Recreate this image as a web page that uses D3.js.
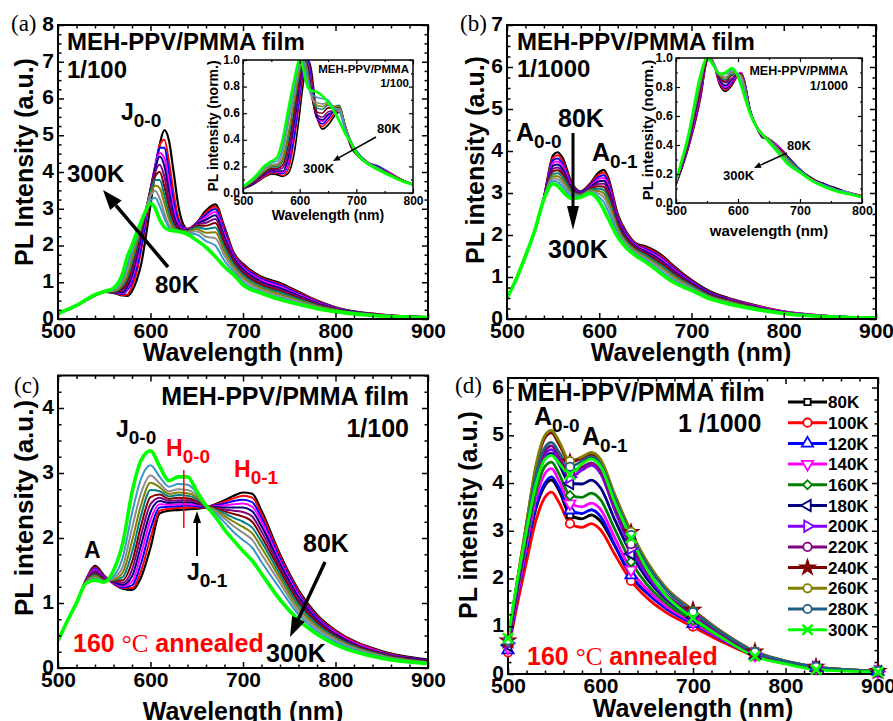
<!DOCTYPE html>
<html>
<head>
<meta charset="utf-8">
<script src="https://cdn.jsdelivr.net/npm/d3@7"></script>
<style>
body { margin: 0; background: #fff; }
svg { display: block; }
</style>
</head>
<body>
<svg id="fig" width="893" height="721"></svg>
<script>
const FONT = "'Liberation Sans', Arial, sans-serif";
const SERIF = "'Liberation Serif', 'Times New Roman', serif";

const temps = ["80K", "100K", "120K", "140K", "160K", "180K", "200K", "220K", "240K", "260K", "280K", "300K"];
const legendColors = ["#000000", "#ff0000", "#0000ff", "#ff00ff", "#008000", "#000080", "#8000ff", "#800080", "#800000", "#808000", "#1f5f82", "#00ff00"];
const bandColors = ["#000000", "#ff0000", "#0000ff", "#ff00ff", "#000080", "#800080", "#800000", "#008080", "#808000", "#8c8c8c", "#3a96c8", "#00ff00"];
const xTicks = [500, 600, 700, 800, 900];
const insetXTicks = [500, 600, 700, 800];

// (a) 1/100 film, one array per temperature
const aWave = [500, 520, 540, 550, 560, 570, 575, 580, 585, 590, 595, 600, 605, 610, 615, 620, 625, 630, 635, 640, 650, 660, 670, 680, 690, 700, 720, 740, 760, 780, 800, 850, 900];
const aSpectra = [
  [.15, .36, .64, .74, .71, .64, .63, .76, 1.05, 1.5, 2.25, 3.1, 4.0, 4.75, 5.14, 4.85, 4.0, 3.1, 2.6, 2.45, 2.62, 2.95, 3.12, 2.5, 1.8, 1.5, 1.15, .98, .74, .5, .32, .12, .05],
  [.15, .36, .64, .74, .72, .65, .67, .89, 1.26, 1.88, 2.59, 3.4, 4.14, 4.74, 4.88, 4.28, 3.43, 2.77, 2.52, 2.45, 2.62, 2.9, 3.06, 2.45, 1.77, 1.47, 1.12, .95, .72, .49, .31, .12, .05],
  [.15, .36, .64, .74, .72, .68, .79, 1.01, 1.4, 1.98, 2.72, 3.46, 4.16, 4.66, 4.66, 3.98, 3.19, 2.67, 2.49, 2.44, 2.61, 2.84, 2.99, 2.38, 1.73, 1.43, 1.09, .92, .69, .47, .3, .11, .05],
  [.15, .36, .64, .74, .73, .71, .84, 1.1, 1.54, 2.16, 2.81, 3.52, 4.15, 4.52, 4.38, 3.71, 2.99, 2.58, 2.45, 2.43, 2.6, 2.77, 2.91, 2.3, 1.69, 1.39, 1.05, .88, .66, .45, .29, .11, .05],
  [.15, .36, .64, .74, .73, .73, .89, 1.18, 1.67, 2.24, 2.9, 3.54, 4.1, 4.42, 4.16, 3.46, 2.82, 2.52, 2.43, 2.42, 2.59, 2.7, 2.82, 2.22, 1.65, 1.35, 1.01, .84, .63, .43, .28, .11, .05],
  [.15, .36, .64, .74, .74, .79, .97, 1.31, 1.8, 2.36, 2.95, 3.53, 4.01, 4.2, 3.87, 3.23, 2.7, 2.48, 2.42, 2.41, 2.57, 2.62, 2.72, 2.13, 1.6, 1.3, .97, .8, .6, .41, .27, .1, .05],
  [.15, .36, .64, .74, .74, .84, 1.04, 1.44, 1.95, 2.44, 2.98, 3.47, 3.88, 4.0, 3.6, 3.04, 2.61, 2.45, 2.41, 2.4, 2.54, 2.54, 2.61, 2.04, 1.55, 1.25, .93, .76, .57, .39, .26, .1, .05],
  [.15, .36, .64, .74, .75, .91, 1.14, 1.54, 2.0, 2.49, 2.98, 3.44, 3.78, 3.78, 3.37, 2.86, 2.54, 2.42, 2.4, 2.39, 2.5, 2.45, 2.49, 1.94, 1.49, 1.2, .88, .72, .54, .37, .25, .1, .05],
  [.15, .36, .64, .74, .76, .96, 1.21, 1.65, 2.08, 2.52, 2.96, 3.38, 3.63, 3.56, 3.15, 2.72, 2.47, 2.4, 2.39, 2.37, 2.45, 2.35, 2.36, 1.83, 1.42, 1.14, .84, .67, .5, .35, .24, .09, .05],
  [.15, .36, .65, .75, .78, 1.04, 1.37, 1.81, 2.19, 2.6, 3.0, 3.34, 3.49, 3.28, 2.88, 2.55, 2.42, 2.39, 2.37, 2.35, 2.39, 2.24, 2.2, 1.72, 1.35, 1.08, .79, .62, .47, .33, .22, .09, .04],
  [.15, .37, .65, .75, .8, 1.11, 1.48, 1.88, 2.22, 2.59, 2.91, 3.23, 3.3, 3.07, 2.74, 2.49, 2.39, 2.37, 2.35, 2.33, 2.3, 2.12, 2.0, 1.58, 1.28, 1.01, .74, .57, .43, .3, .21, .08, .04],
  [.15, .37, .66, .75, .84, 1.25, 1.7, 2.0, 2.35, 2.65, 2.95, 3.15, 3.02, 2.7, 2.5, 2.42, 2.4, 2.38, 2.35, 2.3, 2.14, 1.95, 1.7, 1.42, 1.2, .93, .7, .53, .4, .28, .2, .08, .04]
];

// (a) inset, normalised
const aInsetWave = [500, 520, 540, 550, 560, 570, 580, 590, 600, 605, 610, 615, 620, 630, 640, 650, 660, 670, 680, 690, 700, 720, 740, 760, 780, 800];
const aInsetSpectra = [
  [.03, .07, .125, .144, .138, .125, .148, .29, .60, .78, .92, 1.0, .94, .60, .48, .51, .57, .61, .49, .35, .29, .22, .19, .14, .1, .06],
  [.03, .074, .13, .15, .15, .13, .18, .39, .70, .85, .97, 1.0, .88, .57, .50, .54, .59, .63, .50, .36, .30, .23, .19, .15, .1, .06],
  [.03, .077, .14, .16, .155, .146, .22, .42, .74, .89, 1.0, 1.0, .85, .57, .52, .56, .61, .64, .51, .37, .31, .23, .2, .15, .1, .06],
  [.033, .08, .14, .164, .16, .157, .24, .48, .78, .92, 1.0, .97, .82, .57, .54, .58, .61, .64, .51, .37, .31, .23, .19, .15, .1, .064],
  [.034, .081, .145, .167, .165, .165, .27, .51, .80, .93, 1.0, .94, .78, .57, .55, .59, .61, .64, .50, .37, .31, .23, .19, .14, .1, .063],
  [.036, .086, .152, .176, .176, .188, .31, .56, .84, .95, 1.0, .92, .77, .59, .57, .61, .62, .65, .51, .38, .31, .23, .19, .14, .1, .064],
  [.038, .09, .16, .185, .185, .21, .36, .61, .87, .97, 1.0, .9, .76, .61, .60, .64, .64, .65, .51, .39, .31, .23, .19, .14, .1, .065],
  [.04, .095, .17, .196, .198, .24, .41, .66, .91, 1.0, 1.0, .89, .76, .64, .63, .66, .65, .66, .51, .39, .32, .23, .19, .14, .1, .066],
  [.041, .1, .176, .204, .21, .26, .45, .69, .93, 1.0, .98, .87, .75, .66, .65, .67, .65, .65, .50, .39, .31, .23, .18, .14, .1, .066],
  [.043, .103, .186, .215, .22, .30, .52, .74, .96, 1.0, .94, .83, .73, .68, .67, .68, .64, .63, .49, .39, .31, .23, .18, .13, .09, .063],
  [.045, .11, .197, .227, .24, .34, .57, .78, .98, 1.0, .93, .83, .75, .72, .71, .70, .64, .61, .48, .39, .31, .22, .17, .13, .09, .064],
  [.048, .117, .21, .238, .267, .40, .63, .84, 1.0, .96, .86, .79, .77, .76, .73, .68, .62, .54, .45, .38, .30, .22, .17, .13, .09, .063]
];

// (b) 1/1000 film: wavelength, then 80K ... 300K
const bRows = [
  [500, .5, .5, .5, .5, .5, .5, .5, .5, .5, .5, .5, .5],
  [510, .95, .95, .95, .95, .95, .95, .95, .95, .95, .95, .95, .95],
  [520, 1.5, 1.5, 1.5, 1.5, 1.5, 1.5, 1.5, 1.5, 1.5, 1.5, 1.5, 1.5],
  [530, 2.1, 2.1, 2.1, 2.1, 2.1, 2.1, 2.1, 2.1, 2.1, 2.1, 2.1, 2.1],
  [540, 2.9, 2.9, 2.9, 2.89, 2.89, 2.88, 2.88, 2.87, 2.87, 2.86, 2.86, 2.85],
  [550, 3.9, 3.84, 3.78, 3.72, 3.65, 3.58, 3.52, 3.46, 3.4, 3.35, 3.29, 3.22],
  [555, 3.97, 3.9, 3.82, 3.75, 3.68, 3.61, 3.54, 3.47, 3.4, 3.33, 3.26, 3.17],
  [560, 3.85, 3.78, 3.71, 3.65, 3.58, 3.51, 3.45, 3.38, 3.31, 3.24, 3.16, 3.05],
  [570, 3.25, 3.22, 3.19, 3.16, 3.13, 3.1, 3.07, 3.04, 3.0, 2.97, 2.93, 2.87],
  [580, 3.04, 3.03, 3.02, 3.0, 2.99, 2.98, 2.97, 2.96, 2.94, 2.93, 2.92, 2.9],
  [590, 3.22, 3.2, 3.18, 3.16, 3.14, 3.12, 3.1, 3.08, 3.06, 3.04, 3.02, 2.99],
  [600, 3.5, 3.45, 3.39, 3.34, 3.28, 3.22, 3.16, 3.1, 3.04, 2.98, 2.9, 2.8],
  [605, 3.55, 3.49, 3.42, 3.36, 3.29, 3.22, 3.15, 3.07, 2.99, 2.9, 2.78, 2.6],
  [610, 3.35, 3.29, 3.23, 3.17, 3.1, 3.03, 2.95, 2.87, 2.78, 2.68, 2.55, 2.38],
  [620, 2.5, 2.46, 2.42, 2.38, 2.34, 2.29, 2.24, 2.19, 2.14, 2.09, 2.03, 1.95],
  [630, 2.05, 2.02, 1.99, 1.96, 1.93, 1.9, 1.87, 1.83, 1.8, 1.76, 1.72, 1.68],
  [640, 1.8, 1.78, 1.76, 1.74, 1.72, 1.7, 1.67, 1.64, 1.61, 1.58, 1.54, 1.5],
  [650, 1.73, 1.7, 1.67, 1.64, 1.61, 1.58, 1.55, 1.52, 1.48, 1.45, 1.41, 1.36],
  [660, 1.63, 1.6, 1.56, 1.53, 1.49, 1.46, 1.42, 1.38, 1.34, 1.3, 1.25, 1.2],
  [670, 1.48, 1.45, 1.41, 1.38, 1.34, 1.31, 1.27, 1.23, 1.19, 1.15, 1.09, 1.03],
  [680, 1.28, 1.25, 1.22, 1.19, 1.16, 1.13, 1.1, 1.06, 1.02, .98, .93, .88],
  [700, .93, .91, .89, .87, .85, .83, .81, .79, .76, .74, .71, .68],
  [720, .66, .64, .63, .61, .6, .58, .57, .55, .53, .52, .5, .48],
  [740, .5, .49, .48, .47, .46, .45, .43, .42, .41, .39, .38, .36],
  [760, .38, .37, .36, .35, .34, .33, .32, .31, .3, .29, .28, .27],
  [800, .18, .18, .17, .17, .16, .16, .15, .15, .14, .14, .13, .13],
  [850, .07, .07, .07, .07, .06, .06, .06, .06, .06, .05, .05, .05],
  [900, .03, .03, .03, .03, .03, .03, .02, .02, .02, .02, .02, .02]
];

// (b) inset, normalised
const bInsetRows = [
  [500, .126, .128, .131, .133, .136, .139, .141, .144, .147, .149, .152, .155],
  [520, .38, .38, .39, .4, .41, .42, .42, .43, .44, .45, .46, .47],
  [540, .73, .74, .76, .77, .79, .8, .81, .83, .84, .85, .87, .89],
  [550, .98, .98, .99, .99, .99, .99, .99, 1.0, 1.0, 1.0, 1.0, 1.0],
  [555, 1.0, 1.0, 1.0, 1.0, 1.0, 1.0, 1.0, 1.0, 1.0, .99, .99, .98],
  [560, .97, .97, .97, .97, .97, .97, .97, .97, .97, .97, .96, .95],
  [570, .82, .83, .84, .84, .85, .86, .87, .88, .88, .89, .89, .89],
  [580, .77, .78, .79, .8, .81, .83, .84, .85, .86, .87, .89, .9],
  [590, .81, .82, .83, .84, .85, .86, .88, .89, .9, .91, .92, .93],
  [600, .88, .88, .89, .89, .89, .89, .89, .89, .89, .89, .88, .87],
  [605, .89, .89, .9, .9, .89, .89, .89, .88, .88, .87, .84, .81],
  [610, .84, .84, .85, .85, .84, .84, .83, .83, .82, .8, .78, .74],
  [620, .63, .63, .63, .63, .64, .63, .63, .63, .63, .62, .62, .61],
  [630, .52, .52, .52, .52, .52, .53, .53, .53, .53, .53, .52, .52],
  [640, .45, .46, .46, .46, .47, .47, .47, .47, .47, .47, .47, .47],
  [650, .44, .44, .44, .44, .44, .44, .44, .44, .44, .43, .43, .42],
  [660, .41, .41, .41, .41, .4, .4, .4, .4, .39, .39, .38, .37],
  [670, .37, .37, .37, .37, .36, .36, .36, .35, .35, .34, .33, .32],
  [680, .32, .32, .32, .32, .32, .31, .31, .31, .3, .29, .28, .27],
  [700, .23, .23, .23, .23, .23, .23, .23, .23, .22, .22, .22, .21],
  [720, .17, .16, .16, .16, .16, .16, .16, .16, .16, .16, .15, .15],
  [740, .13, .13, .13, .13, .13, .12, .12, .12, .12, .12, .12, .11],
  [760, .1, .09, .09, .09, .09, .09, .09, .09, .09, .09, .09, .08],
  [780, .07, .07, .07, .07, .07, .07, .07, .07, .07, .07, .07, .06],
  [800, .05, .05, .04, .04, .04, .04, .04, .04, .04, .04, .04, .04]
];

// (c) 1/100 film annealed at 160 C
const cRows = [
  [500, .42, .42, .42, .42, .42, .42, .42, .42, .42, .42, .42, .42],
  [510, .72, .72, .72, .72, .72, .72, .72, .72, .72, .72, .72, .72],
  [520, 1.0, 1.0, 1.0, 1.0, 1.0, 1.0, 1.0, 1.0, 1.0, 1.0, 1.0, 1.0],
  [530, 1.35, 1.35, 1.34, 1.34, 1.33, 1.33, 1.32, 1.32, 1.31, 1.31, 1.3, 1.3],
  [540, 1.57, 1.55, 1.53, 1.51, 1.49, 1.47, 1.45, 1.43, 1.41, 1.39, 1.37, 1.35],
  [550, 1.42, 1.41, 1.4, 1.39, 1.38, 1.37, 1.36, 1.35, 1.34, 1.33, 1.33, 1.32],
  [560, 1.3, 1.3, 1.31, 1.31, 1.32, 1.33, 1.34, 1.35, 1.36, 1.38, 1.41, 1.5],
  [570, 1.22, 1.23, 1.24, 1.26, 1.28, 1.31, 1.35, 1.4, 1.47, 1.56, 1.7, 1.92],
  [580, 1.2, 1.23, 1.27, 1.33, 1.41, 1.51, 1.63, 1.78, 1.95, 2.15, 2.38, 2.7],
  [590, 1.4, 1.5, 1.62, 1.76, 1.9, 2.05, 2.2, 2.36, 2.52, 2.7, 2.92, 3.2],
  [600, 1.85, 2.0, 2.14, 2.28, 2.4, 2.52, 2.63, 2.74, 2.85, 2.96, 3.12, 3.34],
  [610, 2.38, 2.42, 2.47, 2.52, 2.57, 2.62, 2.67, 2.72, 2.78, 2.84, 2.94, 3.1],
  [620, 2.42, 2.45, 2.48, 2.51, 2.54, 2.57, 2.6, 2.64, 2.68, 2.72, 2.79, 2.88],
  [630, 2.43, 2.46, 2.49, 2.52, 2.55, 2.58, 2.62, 2.66, 2.7, 2.75, 2.83, 2.94],
  [640, 2.44, 2.47, 2.5, 2.52, 2.55, 2.58, 2.61, 2.65, 2.69, 2.74, 2.82, 2.94],
  [650, 2.45, 2.47, 2.49, 2.51, 2.53, 2.55, 2.57, 2.6, 2.63, 2.66, 2.7, 2.72],
  [660, 2.47, 2.47, 2.47, 2.48, 2.48, 2.48, 2.49, 2.49, 2.5, 2.5, 2.5, 2.5],
  [670, 2.52, 2.51, 2.5, 2.49, 2.48, 2.47, 2.46, 2.44, 2.43, 2.41, 2.38, 2.33],
  [680, 2.58, 2.56, 2.53, 2.5, 2.47, 2.44, 2.41, 2.38, 2.34, 2.3, 2.24, 2.13],
  [690, 2.65, 2.61, 2.57, 2.52, 2.47, 2.42, 2.37, 2.31, 2.25, 2.18, 2.09, 1.96],
  [700, 2.7, 2.65, 2.59, 2.53, 2.47, 2.4, 2.33, 2.25, 2.17, 2.08, 1.97, 1.8],
  [710, 2.68, 2.62, 2.55, 2.48, 2.41, 2.33, 2.25, 2.16, 2.07, 1.97, 1.85, 1.65],
  [720, 2.42, 2.37, 2.31, 2.25, 2.18, 2.1, 2.02, 1.94, 1.85, 1.75, 1.63, 1.45],
  [740, 1.75, 1.72, 1.68, 1.64, 1.6, 1.55, 1.5, 1.44, 1.38, 1.31, 1.22, 1.05],
  [760, 1.2, 1.18, 1.15, 1.12, 1.09, 1.05, 1.01, .97, .92, .87, .82, .74],
  [780, .82, .8, .78, .76, .74, .72, .7, .67, .64, .61, .57, .52],
  [800, .58, .57, .55, .54, .52, .5, .49, .47, .45, .43, .4, .36],
  [850, .26, .25, .24, .24, .23, .22, .21, .2, .19, .18, .17, .15],
  [900, .13, .12, .12, .11, .11, .1, .1, .09, .09, .08, .08, .07]
];

// (d) 1/1000 film annealed at 160 C
const dRows = [
  [500, .55, .45, .5, .55, .6, .6, .65, .65, .7, .7, .7, .75],
  [510, 1.6, 1.45, 1.6, 1.65, 1.75, 1.8, 1.85, 1.85, 1.95, 1.95, 1.9, 1.95],
  [520, 2.55, 2.35, 2.6, 2.7, 2.8, 2.9, 2.95, 3.0, 3.15, 3.15, 3.05, 3.0],
  [530, 3.45, 3.2, 3.5, 3.65, 3.8, 3.95, 4.0, 4.05, 4.3, 4.35, 4.15, 3.95],
  [540, 3.95, 3.7, 4.0, 4.2, 4.35, 4.52, 4.6, 4.67, 4.95, 5.0, 4.75, 4.5],
  [547, 4.06, 3.81, 4.13, 4.3, 4.44, 4.62, 4.7, 4.78, 5.05, 5.1, 4.85, 4.58],
  [555, 3.85, 3.6, 3.9, 4.05, 4.2, 4.4, 4.48, 4.55, 4.82, 4.88, 4.65, 4.42],
  [567, 3.33, 3.15, 3.43, 3.57, 3.74, 3.99, 4.12, 4.22, 4.44, 4.46, 4.34, 4.18],
  [580, 3.25, 3.07, 3.36, 3.5, 3.7, 3.98, 4.27, 4.33, 4.52, 4.55, 4.46, 4.4],
  [590, 3.33, 3.15, 3.44, 3.58, 3.79, 4.06, 4.37, 4.42, 4.6, 4.64, 4.55, 4.5],
  [600, 3.2, 3.02, 3.3, 3.45, 3.65, 3.9, 4.2, 4.25, 4.45, 4.5, 4.4, 4.35],
  [615, 2.7, 2.52, 2.72, 2.87, 3.05, 3.25, 3.45, 3.52, 3.75, 3.78, 3.7, 3.62],
  [633, 2.05, 1.95, 2.07, 2.18, 2.35, 2.52, 2.63, 2.72, 2.97, 2.98, 2.91, 2.85],
  [650, 1.7, 1.6, 1.7, 1.78, 1.88, 2.0, 2.08, 2.15, 2.35, 2.36, 2.3, 2.2],
  [670, 1.4, 1.3, 1.38, 1.43, 1.5, 1.58, 1.62, 1.68, 1.82, 1.82, 1.78, 1.66],
  [700, 1.1, .99, 1.05, 1.08, 1.12, 1.18, 1.2, 1.25, 1.34, 1.32, 1.3, 1.17],
  [733, .72, .66, .7, .72, .74, .77, .79, .81, .86, .86, .84, .74],
  [767, .4, .37, .39, .4, .41, .42, .43, .44, .47, .47, .46, .37],
  [800, .24, .22, .23, .24, .24, .25, .25, .26, .27, .27, .27, .21],
  [833, .13, .12, .13, .13, .13, .14, .14, .14, .15, .15, .15, .09],
  [867, .08, .07, .08, .08, .08, .08, .08, .08, .09, .09, .09, .06],
  [900, .05, .04, .05, .05, .05, .05, .05, .05, .06, .06, .06, .04]
];
const dMarkerWave = [500, 567, 633, 700, 767, 833, 900];

const svg = d3.select("#fig");
const defs = svg.append("defs");

function fromRows(rows) {
  return temps.map((t, i) => rows.map(r => [r[0], r[i + 1]]));
}
function fromCurves(wave, curves) {
  return curves.map(c => c.map((v, j) => [wave[j], v]));
}

function makePanel(id, box, xDom, yMax) {
  const xs = d3.scaleLinear().domain(xDom).range([box.x0, box.x1]);
  const ys = d3.scaleLinear().domain([0, yMax]).range([box.y1, box.y0]);
  defs.append("clipPath").attr("id", id).append("rect")
    .attr("x", box.x0).attr("y", box.y0)
    .attr("width", box.x1 - box.x0).attr("height", box.y1 - box.y0);
  return { box, xs, ys, clip: `url(#${id})` };
}

function drawAxes(p, o) {
  const b = p.box;
  const g = svg.append("g");
  const [xLo, xHi] = p.xs.domain();
  const xMaj = o.xMaj;
  const xMin = d3.range(xLo, xHi + 1e-6, o.xMinor).filter(v => !xMaj.some(m => Math.abs(m - v) < 1e-6));
  const yMaj = o.yMaj;
  const yMin = d3.range(0, p.ys.domain()[1] + 1e-6, o.yMinor).filter(v => !yMaj.some(m => Math.abs(m - v) < 1e-6));
  const add = (gen, scale, vals, size, tr, fmt) => g.append("g").attr("transform", tr)
    .call(gen(scale).tickValues(vals).tickSize(-size).tickSizeOuter(0).tickPadding(fmt ? o.pad : 0).tickFormat(fmt || (() => "")));
  add(d3.axisBottom, p.xs, xMaj, o.tl, `translate(0,${b.y1})`, d3.format("d"));
  add(d3.axisBottom, p.xs, xMin, o.tm, `translate(0,${b.y1})`);
  add(d3.axisTop, p.xs, xMaj, o.tl, `translate(0,${b.y0})`);
  add(d3.axisTop, p.xs, xMin, o.tm, `translate(0,${b.y0})`);
  const left = add(d3.axisLeft, p.ys, yMaj, o.tl, `translate(${b.x0},0)`, o.yFmt);
  add(d3.axisLeft, p.ys, yMin, o.tm, `translate(${b.x0},0)`);
  add(d3.axisRight, p.ys, yMaj, o.tl, `translate(${b.x1},0)`);
  add(d3.axisRight, p.ys, yMin, o.tm, `translate(${b.x1},0)`);
  g.selectAll(".domain").remove();
  g.selectAll(".tick line").attr("stroke", "#000").attr("stroke-width", o.tw);
  g.selectAll(".tick text").attr("font-family", FONT).attr("font-weight", "bold")
    .attr("font-size", o.fs).attr("fill", "#000");
  left.selectAll(".tick text").attr("dy", "0.26em");
  g.append("rect").attr("x", b.x0).attr("y", b.y0)
    .attr("width", b.x1 - b.x0).attr("height", b.y1 - b.y0)
    .attr("fill", "none").attr("stroke", "#000").attr("stroke-width", o.fw);
}

function drawSpectra(p, series, colors, widthOf) {
  const line = d3.line().curve(d3.curveMonotoneX)
    .x(d => p.xs(d[0])).y(d => p.ys(d[1]));
  svg.append("g").attr("clip-path", p.clip)
    .selectAll("path").data(series).join("path")
    .attr("fill", "none")
    .attr("stroke", (d, i) => colors[i])
    .attr("stroke-width", (d, i) => widthOf(i))
    .attr("stroke-linejoin", "round")
    .attr("d", line);
}

function txt(x, y, s, size, o = {}) {
  const t = svg.append("text").attr("x", x).attr("y", y)
    .attr("font-family", o.family || FONT).attr("font-weight", o.weight || "bold")
    .attr("font-size", size).attr("fill", o.fill || "#000")
    .attr("text-anchor", o.anchor || "start");
  if (o.rotate) t.attr("transform", `rotate(-90,${x},${y})`);
  return t.text(s);
}
function subTxt(x, y, main, sub, size, subSize, fill) {
  const t = svg.append("text").attr("x", x).attr("y", y)
    .attr("font-family", FONT).attr("font-weight", "bold")
    .attr("font-size", size).attr("fill", fill || "#000");
  t.append("tspan").text(main);
  t.append("tspan").attr("font-size", subSize).attr("dy", 7).text(sub);
}
function annealed(x, y) {
  const t = svg.append("text").attr("x", x).attr("y", y)
    .attr("font-size", 25).attr("fill", "#ff0000");
  t.append("tspan").attr("font-family", FONT).attr("font-weight", "bold").text("160 ");
  t.append("tspan").attr("font-family", SERIF).attr("font-weight", "normal").text("°C");
  t.append("tspan").attr("font-family", FONT).attr("font-weight", "bold").text(" annealed");
}
function arrow(x1, y1, x2, y2, w, hl, hw) {
  const a = Math.atan2(y2 - y1, x2 - x1);
  const bx = x2 - hl * Math.cos(a), by = y2 - hl * Math.sin(a);
  const nx = -Math.sin(a) * hw / 2, ny = Math.cos(a) * hw / 2;
  svg.append("line").attr("x1", x1).attr("y1", y1).attr("x2", bx).attr("y2", by)
    .attr("stroke", "#000").attr("stroke-width", w);
  svg.append("path").attr("d", `M${x2},${y2}L${bx + nx},${by + ny}L${bx - nx},${by - ny}Z`).attr("fill", "#000");
}

const mainAxis = { xMaj: xTicks, xMinor: 20, yMinor: 0.25, tl: 6, tm: 3.5, tw: 1.5, fw: 2, fs: 21, pad: 4, yFmt: d3.format("d") };
const bandWidth = i => (i === 11 ? 3.6 : i === 0 ? 2.2 : 2);

// ---------- (a)
const pa = makePanel("clipA", { x0: 58, x1: 428, y0: 25, y1: 319 }, [500, 900], 8);
drawSpectra(pa, fromCurves(aWave, aSpectra), bandColors, bandWidth);
drawAxes(pa, Object.assign({}, mainAxis, { yMaj: d3.range(0, 9) }));
txt(33, 162, "PL Intensity (a.u.)", 25, { anchor: "middle", rotate: true });
txt(243, 361, "Wavelength (nm)", 25, { anchor: "middle" });
txt(11, 31, "(a)", 23, { family: SERIF, weight: "normal" });
txt(67, 50, "MEH-PPV/PMMA film", 24);
txt(67, 78, "1/100", 24);
subTxt(121, 120, "J", "0-0", 23, 19);
txt(67, 182, "300K", 24);
txt(155, 293, "80K", 24);
arrow(168, 267, 103, 190, 3.5, 20, 15);

// (a) inset
const ia = makePanel("clipIA", { x0: 243, x1: 413, y0: 60, y1: 193 }, [500, 800], 1);
svg.append("rect").attr("x", 243).attr("y", 60).attr("width", 170).attr("height", 133).attr("fill", "#fff");
drawSpectra(ia, fromCurves(aInsetWave, aInsetSpectra), bandColors, i => (i === 11 ? 2.6 : 1.6));
drawAxes(ia, { xMaj: insetXTicks, xMinor: 50, yMaj: d3.range(0, 1.01, 0.2), yMinor: 0.1, tl: 4, tm: 2, tw: 1.2, fw: 1.5, fs: 12, pad: 3, yFmt: d3.format(".1f") });
txt(218, 126, "PL intensity (norm.)", 14, { anchor: "middle", rotate: true });
txt(328, 220, "Wavelength (nm)", 14, { anchor: "middle" });
txt(409, 73, "MEH-PPV/PMMA", 11.5, { anchor: "end" });
txt(409, 87, "1/100", 11.5, { anchor: "end" });
txt(377, 133, "80K", 13);
txt(303, 173, "300K", 13);
arrow(376, 137, 333, 161, 1.5, 7, 6);

// ---------- (b)
const pb = makePanel("clipB", { x0: 507, x1: 876, y0: 25, y1: 319 }, [500, 900], 7);
drawSpectra(pb, fromRows(bRows), bandColors, bandWidth);
drawAxes(pb, Object.assign({}, mainAxis, { yMaj: d3.range(0, 8) }));
txt(484, 160, "PL intensity (a.u.)", 25, { anchor: "middle", rotate: true });
txt(691, 361, "Wavelength (nm)", 25, { anchor: "middle" });
txt(460, 31, "(b)", 23, { family: SERIF, weight: "normal" });
txt(517, 50, "MEH-PPV/PMMA film", 24);
txt(517, 77, "1/1000", 24);
subTxt(516, 141, "A", "0-0", 25, 19);
txt(558, 127, "80K", 25);
arrow(573, 133, 573, 230, 3, 24, 12);
txt(548, 258, "300K", 25);
subTxt(592, 161, "A", "0-1", 25, 19);

// (b) inset
const ib = makePanel("clipIB", { x0: 676, x1: 862, y0: 58, y1: 203 }, [500, 800], 1);
svg.append("rect").attr("x", 676).attr("y", 58).attr("width", 186).attr("height", 145).attr("fill", "#fff");
drawSpectra(ib, fromRows(bInsetRows), bandColors, i => (i === 11 ? 2.6 : 1.6));
drawAxes(ib, { xMaj: insetXTicks, xMinor: 50, yMaj: d3.range(0, 1.01, 0.2), yMinor: 0.1, tl: 4, tm: 2, tw: 1.2, fw: 1.5, fs: 12.5, pad: 3, yFmt: d3.format(".1f") });
txt(653, 130, "PL intensity (norm.)", 15, { anchor: "middle", rotate: true });
txt(769, 236, "wavelength (nm)", 15, { anchor: "middle" });
txt(848, 75, "MEH-PPV/PMMA", 12.5, { anchor: "end" });
txt(848, 90, "1/1000", 12.5, { anchor: "end" });
txt(787, 150, "80K", 13);
txt(723, 180, "300K", 13);
arrow(787, 153, 754, 168, 1.5, 7, 6);

// ---------- (c)
const pc = makePanel("clipC", { x0: 58, x1: 428, y0: 375.5, y1: 668 }, [500, 900], 4.5);
drawSpectra(pc, fromRows(cRows), bandColors, bandWidth);
drawAxes(pc, Object.assign({}, mainAxis, { yMaj: d3.range(0, 5) }));
txt(33, 508, "PL intensity (a.u.)", 26, { anchor: "middle", rotate: true });
txt(243, 720, "Wavelength (nm)", 25, { anchor: "middle" });
txt(14, 393, "(c)", 23, { family: SERIF, weight: "normal" });
txt(409, 405, "MEH-PPV/PMMA film", 25, { anchor: "end" });
txt(409, 437, "1/100", 25, { anchor: "end" });
subTxt(116, 437, "J", "0-0", 23, 19);
subTxt(166, 456, "H", "0-0", 23, 19, "#ff0000");
subTxt(234, 477, "H", "0-1", 23, 19, "#ff0000");
svg.append("line").attr("x1", pc.xs(636)).attr("x2", pc.xs(636)).attr("y1", 470).attr("y2", 528)
  .attr("stroke", "#ff0000").attr("stroke-width", 1.5);
txt(84, 558, "A", 23);
arrow(197, 556, 197, 511, 2, 12, 8);
subTxt(187, 580, "J", "0-1", 23, 19);
txt(303, 552, "80K", 25);
arrow(325, 562, 290, 637, 3.5, 20, 14);
txt(266, 662, "300K", 25);
annealed(73, 652);

// ---------- (d)
const pd = makePanel("clipD", { x0: 508, x1: 878, y0: 378, y1: 674 }, [500, 900], 6.2);
const dSeries = fromRows(dRows);
drawSpectra(pd, dSeries, legendColors, () => 2.8);
drawAxes(pd, Object.assign({}, mainAxis, { yMaj: d3.range(0, 7) }));

const symTimes = d3.symbolTimes || d3.symbolX;
const markerDefs = [
  { type: d3.symbolSquare, size: 40, rot: 0 },
  { type: d3.symbolCircle, size: 55, rot: 0 },
  { type: d3.symbolTriangle, size: 55, rot: 0 },
  { type: d3.symbolTriangle, size: 55, rot: 180 },
  { type: d3.symbolSquare, size: 40, rot: 45 },
  { type: d3.symbolTriangle, size: 55, rot: -90 },
  { type: d3.symbolTriangle, size: 55, rot: 90 },
  { type: d3.symbolCircle, size: 55, rot: 0 },
  { type: d3.symbolStar, size: 60, rot: 0, filled: true },
  { type: d3.symbolCircle, size: 55, rot: 0 },
  { type: d3.symbolCircle, size: 55, rot: 0 },
  { type: symTimes, size: 70, rot: 0, cross: true }
];
function drawMarker(g, x, y, i) {
  const m = markerDefs[i];
  g.append("path")
    .attr("d", d3.symbol().type(m.type).size(m.size)())
    .attr("transform", `translate(${x},${y}) rotate(${m.rot})`)
    .attr("fill", m.cross ? "none" : m.filled ? legendColors[i] : "#fff")
    .attr("stroke", legendColors[i])
    .attr("stroke-width", m.cross ? 2.6 : 1.8);
}
const mg = svg.append("g");
dSeries.forEach((s, i) => {
  s.filter(d => dMarkerWave.includes(d[0])).forEach(d => drawMarker(mg, pd.xs(d[0]), pd.ys(d[1]), i));
});

txt(477, 515, "PL intensity (a.u.)", 25, { anchor: "middle", rotate: true });
txt(693, 717, "Wavelength (nm)", 25, { anchor: "middle" });
txt(455, 393, "(d)", 23, { family: SERIF, weight: "normal" });
txt(517, 401, "MEH-PPV/PMMA film", 25);
txt(678, 432, "1 /1000", 25);
subTxt(534, 425, "A", "0-0", 25, 19);
subTxt(582, 445, "A", "0-1", 25, 19);
annealed(527, 665);

// legend
const lg = svg.append("g");
temps.forEach((t, i) => {
  const y = 402 + i * 20.7;
  lg.append("line").attr("x1", 788).attr("x2", 827).attr("y1", y).attr("y2", y)
    .attr("stroke", legendColors[i]).attr("stroke-width", 3);
  drawMarker(lg, 807.5, y, i);
  lg.append("text").attr("x", 828).attr("y", y).attr("dy", "0.36em")
    .attr("font-family", FONT).attr("font-weight", "bold").attr("font-size", 17)
    .text(t);
});
</script>
</body>
</html>
